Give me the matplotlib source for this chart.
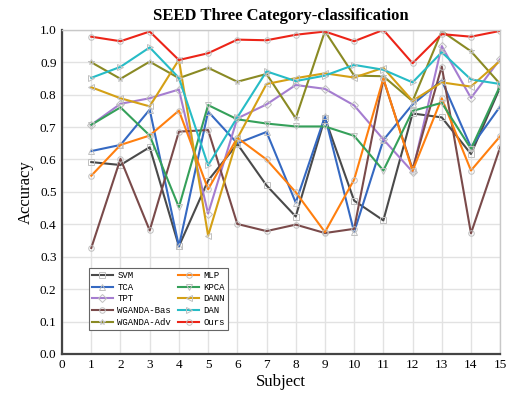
import matplotlib.pyplot as plt
import numpy as np

# 피험자 번호
subjects = np.arange(1, 16)

svm = [0.592, 0.583, 0.638, 0.332, 0.535, 0.648, 0.520, 0.424, 0.728, 0.473, 0.412, 0.742, 0.730, 0.617, 0.823]
tca = [0.626, 0.645, 0.754, 0.332, 0.748, 0.650, 0.685, 0.467, 0.733, 0.376, 0.660, 0.770, 0.844, 0.638, 0.764]
tpt = [0.707, 0.772, 0.789, 0.816, 0.433, 0.727, 0.770, 0.830, 0.818, 0.767, 0.662, 0.562, 0.950, 0.790, 0.910]
wganda_bas = [0.327, 0.602, 0.381, 0.686, 0.691, 0.401, 0.379, 0.399, 0.373, 0.386, 0.848, 0.570, 0.887, 0.372, 0.638]
wganda_adv = [0.900, 0.849, 0.902, 0.851, 0.883, 0.840, 0.864, 0.727, 0.996, 0.859, 0.857, 0.780, 0.996, 0.934, 0.833]
mlp = [0.550, 0.645, 0.674, 0.751, 0.508, 0.667, 0.600, 0.499, 0.376, 0.538, 0.850, 0.565, 0.789, 0.566, 0.672]
kpca = [0.707, 0.761, 0.674, 0.453, 0.768, 0.724, 0.711, 0.702, 0.702, 0.673, 0.566, 0.750, 0.775, 0.633, 0.828]
dann = [0.823, 0.789, 0.764, 0.908, 0.365, 0.665, 0.833, 0.851, 0.866, 0.853, 0.883, 0.781, 0.838, 0.825, 0.905]
dan = [0.852, 0.886, 0.946, 0.852, 0.582, 0.730, 0.872, 0.842, 0.859, 0.892, 0.877, 0.838, 0.931, 0.847, 0.833]
ours = [0.979, 0.965, 0.995, 0.907, 0.928, 0.970, 0.968, 0.985, 0.995, 0.965, 1.0, 0.897, 0.987, 0.979, 0.997]

series = [
    ('SVM', svm, '#4a4a4a', 's'),
    ('TCA', tca, '#3569c2', '^'),
    ('TPT', tpt, '#a57dd0', 'D'),
    ('WGANDA-Bas', wganda_bas, '#7a4a4a', 'o'),
    ('WGANDA-Adv', wganda_adv, '#8a8a24', '*'),
    ('MLP', mlp, '#ff7f0e', 'o'),
    ('KPCA', kpca, '#35a05a', 'v'),
    ('DANN', dann, '#d4a015', '<'),
    ('DAN', dan, '#27bcc6', '>'),
    ('Ours', ours, '#ec2418', 'o'),
]

plt.rcParams['font.family'] = ['Liberation Serif', 'DejaVu Serif']

fig = plt.figure(figsize=(5.13, 4.04), dpi=100)
ax = fig.add_axes([0.121, 0.124, 0.854, 0.802])

for name, vals, col, mk in series:
    ax.plot(subjects, vals, color=col, lw=1.5, marker=mk, ms=4,
            mfc='none', mec='#c0c0c0', mew=0.7, label=name)

ax.set_xlim(0, 15)
ax.set_ylim(0, 1.0)
ax.set_xticks(np.arange(0, 16))
ax.set_yticks(np.arange(0, 1.01, 0.1))
ax.set_yticklabels(['%.1f' % v for v in np.arange(0, 1.01, 0.1)])
ax.tick_params(labelsize=9.5, length=0, pad=4)
ax.grid(True, color='#e2e2e2', lw=1)
ax.set_axisbelow(True)

for s in ['top', 'right']:
    ax.spines[s].set_color('#c8c8c8')
    ax.spines[s].set_linewidth(1)
for s in ['left', 'bottom']:
    ax.spines[s].set_color('#444444')
    ax.spines[s].set_linewidth(1.6)

ax.set_title('SEED Three Category-classification', fontsize=12, fontweight='bold', pad=7)
ax.set_xlabel('Subject', fontsize=12, labelpad=2)
ax.set_ylabel('Accuracy', fontsize=12, labelpad=4)

leg = ax.legend(loc='lower left', bbox_to_anchor=(0.062, 0.075), ncol=2,
                prop={'family': 'Liberation Mono', 'size': 6.5},
                fancybox=False, edgecolor='#666666', framealpha=1,
                handlelength=2.3, labelspacing=0.3, columnspacing=0.8,
                handletextpad=0.5, borderpad=0.3, borderaxespad=0)
leg.get_frame().set_linewidth(0.8)

fig.savefig('out.png', dpi=100)
